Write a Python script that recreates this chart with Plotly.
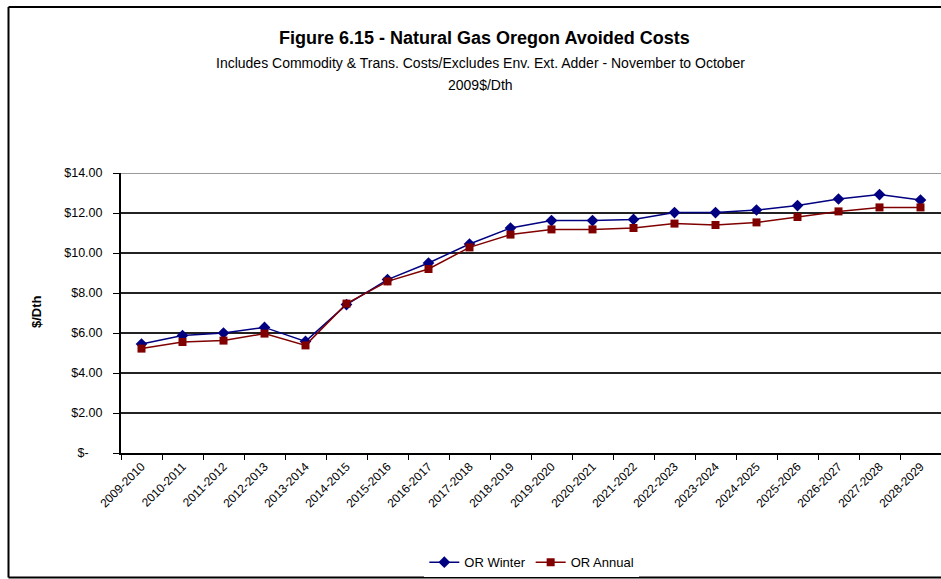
import plotly.graph_objects as go

# Season labels (November to October)
seasons = [
    "2009-2010", "2010-2011", "2011-2012", "2012-2013", "2013-2014",
    "2014-2015", "2015-2016", "2016-2017", "2017-2018", "2018-2019",
    "2019-2020", "2020-2021", "2021-2022", "2022-2023", "2023-2024",
    "2024-2025", "2025-2026", "2026-2027", "2027-2028", "2028-2029",
]

# Avoided costs, 2009$/Dth
or_winter = [5.45, 5.87, 6.00, 6.28, 5.58, 7.42, 8.67, 9.50, 10.45, 11.25,
             11.62, 11.62, 11.68, 12.02, 12.02, 12.15, 12.37, 12.70, 12.92, 12.65]
or_annual = [5.22, 5.55, 5.62, 5.97, 5.38, 7.47, 8.58, 9.20, 10.28, 10.92,
             11.18, 11.18, 11.25, 11.47, 11.40, 11.53, 11.80, 12.08, 12.28, 12.28]

# Y axis ticks in accounting format
y_ticks = [0, 2, 4, 6, 8, 10, 12, 14]
y_tick_text = ["$-\u00a0\u00a0\u00a0\u00a0", "$2.00", "$4.00", "$6.00",
               "$8.00", "$10.00", "$12.00", "$14.00"]

FONT = "Liberation Sans Narrow, Arial Narrow, Liberation Sans, Arial, sans-serif"

fig = go.Figure()
fig.add_trace(go.Scatter(
    x=seasons, y=or_winter, name="OR Winter", mode="lines+markers",
    line=dict(color="#000080", width=1.5),
    marker=dict(symbol="diamond", size=9, color="#000080"),
))
fig.add_trace(go.Scatter(
    x=seasons, y=or_annual, name="OR Annual", mode="lines+markers",
    line=dict(color="#800000", width=1.5),
    marker=dict(symbol="square", size=8, color="#800000"),
))

fig.update_layout(
    width=941, height=579,
    margin=dict(l=121, r=0, t=173, b=126),
    paper_bgcolor="white", plot_bgcolor="white",
    font=dict(family=FONT, size=12, color="black"),
    showlegend=True,
    legend=dict(orientation="h", x=0.501, xanchor="center", y=-0.39, yanchor="middle",
                font=dict(size=13), itemwidth=30, tracegroupgap=0),
    annotations=[
        dict(text="<b>Figure 6.15 - Natural Gas Oregon Avoided Costs</b>",
             xref="paper", yref="paper", x=0.443, y=(453 - 38) / 280,
             showarrow=False, font=dict(size=18, family=FONT), yanchor="middle"),
        dict(text="Includes Commodity & Trans. Costs/Excludes Env. Ext. Adder - November to October",
             xref="paper", yref="paper", x=0.438, y=(453 - 63) / 280,
             showarrow=False, font=dict(size=14, family=FONT), yanchor="middle"),
        dict(text="2009$/Dth",
             xref="paper", yref="paper", x=0.438, y=(453 - 85) / 280,
             showarrow=False, font=dict(size=14, family=FONT), yanchor="middle"),
        dict(text="<b>$/Dth</b>", textangle=-90,
             xref="paper", yref="paper", x=(36 - 121) / 820, y=(453 - 312) / 280,
             showarrow=False, font=dict(size=13, family=FONT), xanchor="center", yanchor="middle"),
    ],
    shapes=[
        # top gridline drawn lighter
        dict(type="line", xref="paper", yref="y", x0=0, x1=1, y0=14, y1=14,
             line=dict(color="#9a9a9a", width=2), layer="above"),
        # outer chart frame (left, top, bottom edges)
        dict(type="line", xref="paper", yref="paper",
             x0=(8.5 - 121) / 820, x1=(8.5 - 121) / 820,
             y0=(453 - 7) / 280, y1=(453 - 577.5) / 280,
             line=dict(color="black", width=2)),
        dict(type="line", xref="paper", yref="paper",
             x0=(8.5 - 121) / 820, x1=1.01,
             y0=(453 - 7) / 280, y1=(453 - 7) / 280,
             line=dict(color="black", width=2)),
        dict(type="line", xref="paper", yref="paper",
             x0=(8.5 - 121) / 820, x1=1.01,
             y0=(453 - 577.5) / 280, y1=(453 - 577.5) / 280,
             line=dict(color="black", width=2)),
    ],
)

fig.update_xaxes(
    type="category", range=[-0.5, 19.5], tickson="boundaries",
    ticks="outside", ticklen=5, tickcolor="black", tickwidth=1,
    showline=True, linecolor="black", linewidth=2,
    tickangle=-45, tickfont=dict(size=12, family=FONT),
    showgrid=False, zeroline=False,
)
fig.update_yaxes(
    range=[0, 14], tickvals=y_ticks, ticktext=y_tick_text,
    ticks="outside", ticklen=6, tickcolor="black", ticklabelstandoff=8,
    showline=True, linecolor="black", linewidth=2,
    showgrid=True, gridcolor="#222222", gridwidth=1.5,
    zeroline=False, tickfont=dict(size=12.5, family=FONT),
)

fig.write_html("out.html")
